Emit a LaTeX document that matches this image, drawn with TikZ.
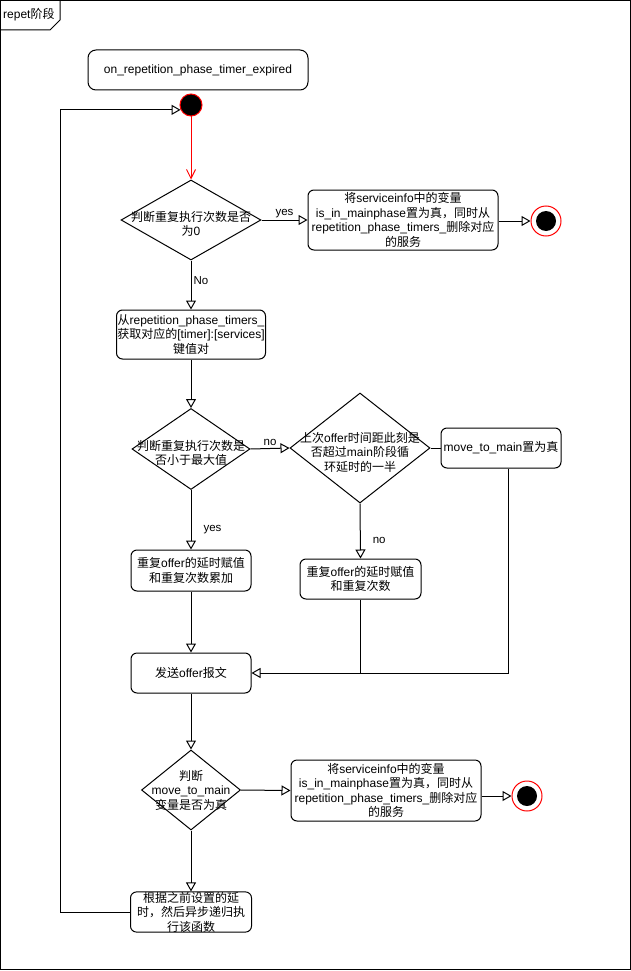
\documentclass[tikz,border=0pt]{standalone}
\usepackage{fontspec}
\usetikzlibrary{shapes.geometric, arrows.meta}
\setmainfont{Liberation Sans}
\newfontfamily\cjkfnt{Noto Sans CJK SC}
\newfontfamily\latinfnt{Liberation Sans}
% switch to the CJK font for Chinese characters
\XeTeXinterchartokenstate=1
\newXeTeXintercharclass\cjkclass
\count255="3000
\loop\XeTeXcharclass\count255=\cjkclass\advance\count255 by 1 \ifnum\count255<"3040 \repeat
\count255="4E00
\loop\XeTeXcharclass\count255=\cjkclass\advance\count255 by 1 \ifnum\count255<"A000 \repeat
\count255="FF00
\loop\XeTeXcharclass\count255=\cjkclass\advance\count255 by 1 \ifnum\count255<"FFF0 \repeat
\XeTeXinterchartoks 0 \cjkclass = {\cjkfnt}
\XeTeXinterchartoks 4095 \cjkclass = {\cjkfnt}
\XeTeXinterchartoks \cjkclass 0 = {\latinfnt}
\XeTeXinterchartoks 4095 0 = {\latinfnt}

\begin{document}
\begin{tikzpicture}[
    x=1pt, y=-1pt,
    every node/.style={font=\fontsize{12}{14.5}\selectfont},
    block/.style={rectangle, draw=black, line width=1pt, rounded corners=6pt, inner sep=0pt, align=center, fill=white},
    decision/.style={diamond, draw=black, line width=1pt, inner sep=0pt, fill=white},
    startdot/.style={circle, draw=red, fill=black, minimum size=22pt, inner sep=0pt, line width=1pt},
    enddot/.style={circle, draw=red, fill=white, minimum size=30pt, inner sep=0pt, line width=1pt,
        path picture={\fill[black] (path picture bounding box.center) circle (10pt);}},
    arrow/.style={-{Triangle[open, length=9pt, width=10pt]}, line width=1pt, black},
    line/.style={line width=1pt, black},
    lbl/.style={font=\fontsize{11.5}{13}\selectfont, inner sep=2pt}
]
\useasboundingbox (0,0) rectangle (631,971);

% frame
\draw[line] (0.5,0.5) rectangle (630.5,969.5);
\draw[line] (0.5,30) -- (50,30) -- (60,20) -- (60,0.5);
\node[anchor=west, inner sep=0pt] (frametag) at (3,15) {repet阶段};

\node[block, minimum width=220pt, minimum height=40pt, rounded corners=8pt] (title) at (198,70) {on\_repetition\_phase\_timer\_expired};
\node[startdot] (s1) at (191,105) {};
\node[decision, minimum width=140pt, minimum height=80pt, label={[align=center, yshift=-4pt]center:判断重复执行次数是否\\为0}] (d1) at (191,220) {};
\node[block, minimum width=190pt, minimum height=60pt] (a1) at (403,220) {将serviceinfo中的变量\\is\_in\_mainphase置为真，同时从\\repetition\_phase\_timers\_删除对应\\的服务};
\node[enddot] (e1) at (546,221) {};
\node[block, minimum width=149pt, minimum height=49pt] (b1) at (191,334.5) {从repetition\_phase\_timers\_\\获取对应的[timer]:[services]\\键值对};
\node[decision, minimum width=118pt, minimum height=81pt, label={[align=center, yshift=-4pt]center:判断重复执行次数是\\否小于最大值}] (d2) at (191,449) {};
\node[decision, minimum width=140pt, minimum height=110pt, label={[align=center, yshift=-4pt]center:上次offer时间距此刻是\\否超过main阶段循\\环延时的一半}] (d3) at (360,448) {};
\node[block, minimum width=120pt, minimum height=40pt] (c1) at (501,448) {move\_to\_main置为真};
\node[block, minimum width=120pt, minimum height=41pt] (bD) at (191,570.5) {重复offer的延时赋值\\和重复次数累加};
\node[block, minimum width=121pt, minimum height=40pt] (bE) at (360.5,579) {重复offer的延时赋值\\和重复次数};
\node[block, minimum width=120pt, minimum height=40pt] (f1) at (191,673) {发送offer报文};
\node[decision, minimum width=99pt, minimum height=80pt, label={[align=center]center:判断\\move\_to\_main\\变量是否为真}] (d4) at (191,790) {};
\node[block, minimum width=190pt, minimum height=61pt] (g1) at (386,790.5) {将serviceinfo中的变量\\is\_in\_mainphase置为真，同时从\\repetition\_phase\_timers\_删除对应\\的服务};
\node[enddot] (e2) at (527,796) {};
\node[block, minimum width=121pt, minimum height=40pt] (h1) at (191,912) {根据之前设置的延\\时，然后异步递归执\\行该函数};

\draw[red, line width=1pt, -{Straight Barb[length=9pt, width=9pt]}] (s1) -- (d1.north);
\draw[arrow] (d1.east) -- node[lbl, above] {yes} (a1.west);
\draw[arrow] (a1.east |- e1) -- (e1.west);
\draw[arrow] (d1.south) -- node[lbl, right, pos=0.4] {No} (b1.north);
\draw[arrow] (b1.south) -- (d2.north);
\draw[arrow] (d2.east) -- node[lbl, above] {no} (d3.west);
\draw[line] (d3.east) -- (c1.west);
\draw[arrow] (d2.south) -- node[lbl, right=10pt, pos=0.67] {yes} (bD.north);
\draw[arrow] (d3.south) -- node[lbl, right=10pt, pos=0.68] {no} (bE.north);
\draw[arrow] (bD.south) -- (f1.north);
\draw[arrow] ([xshift=7pt]c1.south) |- (f1.east);
\draw[line] (bE.south) -- (bE.south |- f1.east);
\draw[arrow] (f1.south) -- (d4.north);
\draw[arrow] (d4.east) -- (g1.west);
\draw[arrow] (g1.east |- e2) -- (e2.west);
\draw[arrow] (d4.south) -- (h1.north);
\draw[arrow] (h1.west) -- ++(-70,0) |- (s1.205);
\end{tikzpicture}
\end{document}
